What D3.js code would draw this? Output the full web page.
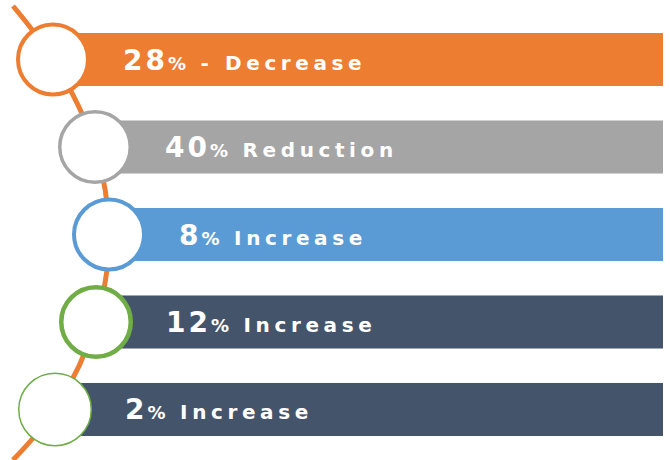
<!DOCTYPE html>
<html lang="en">
<head>
<meta charset="UTF-8">
<title>Change steps</title>
<script src="https://d3js.org/d3.v7.min.js"></script>
<style>
    body { margin: 0; background: #fff; }
    text { font-family: "DejaVu Sans", sans-serif; font-weight: 700; fill: #fff; }
</style>
</head>
<body>
<div id="chart"></div>
<script>
    // data
    var ids = ["r1", "r2", "r3", "r4", "r5"]
    var numbers = ["28", "40", "8", "12", "2"]
    var words = [" - Decrease", " Reduction", " Increase", " Increase", " Increase"]
    var barColors = ["#ED7D31", "#A5A5A5", "#5B9BD5", "#44546A", "#44546A"]
    var ringColors = ["#ED7D31", "#A5A5A5", "#5B9BD5", "#70AD47", "#70AD47"]

    var width = 670, height = 460
    var right = 663

    // horizontal offset of each ring along the bent spine
    var bend = [53, 95, 109, 96, 55]
    var ringWidth = [4, 3.5, 4, 4.5, 1.5]

    var svg = d3.select("#chart").append("svg")
        .attr("width", width)
        .attr("height", height)

    var y = d3.scaleBand()
        .domain(ids)
        .range([33, 436])
        .paddingInner(0.394)
        .paddingOuter(0)

    var cy = function(d) { return y(d) + y.bandwidth() / 2 }

    // bars
    svg.selectAll("rect.bar")
        .data(ids)
        .enter().append("rect")
        .attr("class", "bar")
        .attr("x", function(d, i) { return bend[i] })
        .attr("y", function(d) { return y(d) })
        .attr("width", function(d, i) { return right - bend[i] })
        .attr("height", y.bandwidth())
        .attr("fill", function(d, i) { return barColors[i] })

    // orange spine through the ring centres
    var pts = ids.map(function(d, i) { return [bend[i], cy(d)] })
    pts.unshift([13, 6])
    pts.push([13, 460])
    svg.append("path")
        .attr("d", d3.line().curve(d3.curveCatmullRom)(pts))
        .attr("fill", "none")
        .attr("stroke", "#ED7D31")
        .attr("stroke-width", 5)

    // rings
    svg.selectAll("circle.ring")
        .data(ids)
        .enter().append("circle")
        .attr("class", "ring")
        .attr("cx", function(d, i) { return bend[i] })
        .attr("cy", cy)
        .attr("r", function(d, i) { return 37 - ringWidth[i] / 2 })
        .attr("fill", "#fff")
        .attr("stroke", function(d, i) { return ringColors[i] })
        .attr("stroke-width", function(d, i) { return ringWidth[i] })

    // labels
    var label = svg.selectAll("text.lab")
        .data(ids)
        .enter().append("text")
        .attr("class", "lab")
        .attr("x", function(d, i) { return bend[i] + 70 })
        .attr("y", function(d) { return cy(d) + 10 })

    label.append("tspan")
        .style("font-size", "28px")
        .style("letter-spacing", "3px")
        .text(function(d, i) { return numbers[i] })
    label.append("tspan")
        .style("font-size", "18px")
        .style("letter-spacing", "3px")
        .text("%")
    label.append("tspan")
        .style("font-size", "20px")
        .style("letter-spacing", "4.6px")
        .attr("xml:space", "preserve")
        .text(function(d, i) { return words[i] })
</script>
</body>
</html>
